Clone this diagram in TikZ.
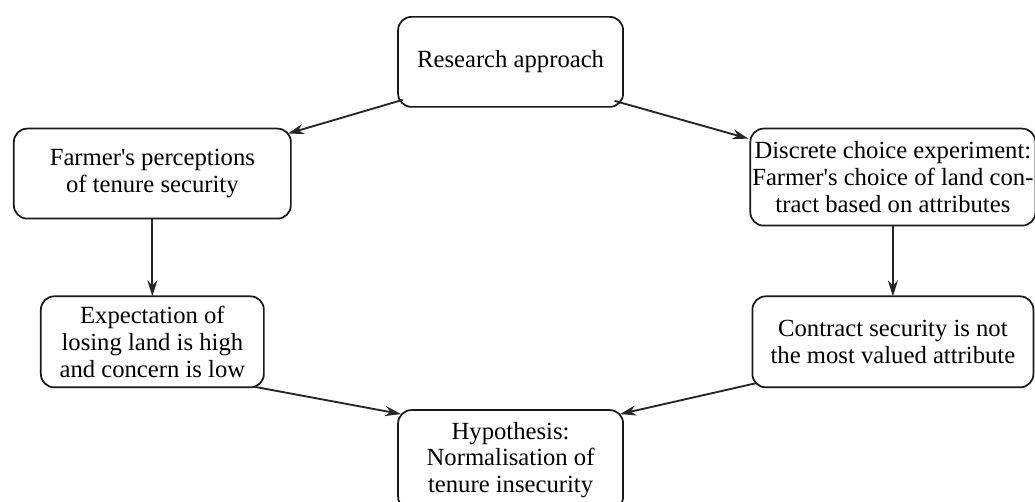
\documentclass[tikz,border=0pt]{standalone}
\usepackage{fontspec}
\setmainfont{Liberation Serif}
\usetikzlibrary{matrix,arrows.meta}

\begin{document}
\begin{tikzpicture}[ampersand replacement=\&,
  box/.style={draw=black!90, line width=1.3pt, rounded corners=10pt, align=center,
    anchor=north, inner sep=1.5pt, outer sep=0pt, font=\fontsize{18.5}{20}\selectfont}]
  \useasboundingbox (0,0) rectangle (776.25pt,-375.75pt);
  \matrix(m)[anchor=north west, inner sep=0pt, outer sep=0pt,
    row sep=15pt, column sep=79.125pt] at (9.75pt,-12pt)
  { \& \node[box, minimum width=168.75pt, minimum height=67.5pt] (res) {Research approach}; \&[15pt] \\
    \node[box, minimum width=207.75pt, minimum height=67.5pt] (perc) {Farmer\textquotesingle s perceptions\\of tenure security};
      \& \&[15pt]
      \node[box, minimum width=210.75pt, minimum height=72.75pt] (dce) {Discrete choice experiment:\\Farmer\textquotesingle s choice of land con-\\tract based on attributes}; \\[36.75pt]
    \node[box, minimum width=167.25pt, minimum height=68.25pt] (expect) {Expectation of\\losing land is high\\and concern is low};
      \& \&[15pt]
      \node[box, minimum width=210.75pt, minimum height=68.25pt] (contract) {Contract security is not\\the most valued attribute}; \\[0.75pt]
     \& \node[box, minimum width=168.75pt, minimum height=75pt] (hyp) {Hypothesis:\\Normalisation of\\tenure insecurity}; \&[15pt] \\};
  \path[-{Stealth[length=12pt,width=7.5pt]}, line width=1.4pt, black!85]
    ([xshift=3.4pt,yshift=5.25pt]res.south west) edge ([xshift=-2.25pt,yshift=-3.75pt]perc.north east)
    ([xshift=-6.4pt,yshift=4.5pt]res.south east) edge ([xshift=-1.5pt,yshift=-7.5pt]dce.north west)
    (perc) edge (expect)
    (dce) edge (contract)
    ([xshift=-7.5pt,yshift=0.5pt]expect.south east) edge ([xshift=2.25pt,yshift=-3pt]hyp.north west)
    ([xshift=2.25pt,yshift=3pt]contract.south west) edge ([xshift=-2.25pt,yshift=-3pt]hyp.north east);
\end{tikzpicture}
\end{document}
